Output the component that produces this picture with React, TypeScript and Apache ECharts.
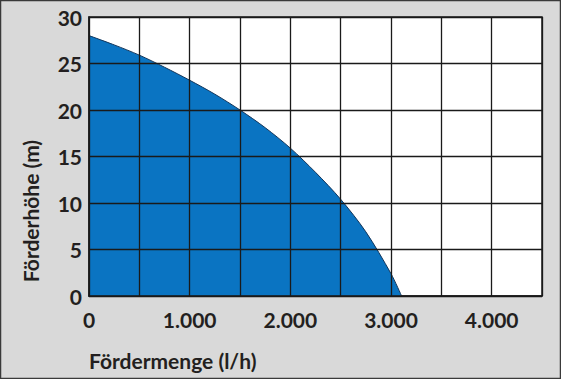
import React, { useEffect, useRef } from "react";
import * as echarts from "echarts";

const flowRates = [0, 250, 500, 750, 1000, 1250, 1500, 1750, 2000, 2250, 2500, 2750, 3000, 3105];
const heads = [28, 27.0, 25.9, 24.6, 23.2, 21.7, 20.0, 18.1, 15.9, 13.3, 10.4, 6.9, 2.4, 0];
const xTitle = "Fördermenge (l/h)";
const yTitle = "Förderhöhe (m)";

const FONT = "Lato";
const TXT = "#231f20";

export default function App() {
  const ref = useRef<HTMLDivElement>(null);
  useEffect(() => {
    document.body.style.margin = "0";
    const chart = echarts.init(ref.current!, null, { renderer: "svg" });
    const data = flowRates.map((x, i) => [x, heads[i]]);
    chart.setOption({
      animation: false,
      backgroundColor: "#d9d9d9",
      grid: {
        left: 89,
        top: 17,
        right: 19,
        bottom: 83,
        show: true,
        backgroundColor: "#ffffff",
        borderColor: "#1a1a1a",
        borderWidth: 1.5,
        z: 0,
      },
      xAxis: {
        type: "value",
        min: 0,
        max: 4500,
        interval: 500,
        z: 3,
        axisLine: { show: true, lineStyle: { color: "#1a1a1a", width: 1.5 } },
        axisTick: { show: false },
        splitLine: { show: true, lineStyle: { color: "#1a1a1a", width: 1.3 } },
        axisLabel: {
          margin: 13,
          color: TXT,
          fontFamily: FONT,
          fontWeight: "bold",
          fontSize: 21,
          formatter: (v: number) => {
            if (v % 1000 !== 0 || v > 4000) return "";
            if (v === 0) return "0";
            return (v / 1000).toFixed(0) + ".000";
          },
        },
      },
      yAxis: {
        type: "value",
        min: 0,
        max: 30,
        interval: 5,
        z: 3,
        axisLine: { show: true, lineStyle: { color: "#1a1a1a", width: 1.5 } },
        axisTick: { show: false },
        splitLine: { show: true, lineStyle: { color: "#1a1a1a", width: 1.3 } },
        axisLabel: {
          margin: 7,
          color: TXT,
          fontFamily: FONT,
          fontWeight: "bold",
          fontSize: 21,
        },
      },
      series: [
        {
          type: "line",
          data,
          smooth: 0.3,
          symbol: "none",
          z: 1,
          lineStyle: { color: "#12355a", width: 1 },
          areaStyle: { color: "#0a74c2", opacity: 1 },
        },
      ],
      graphic: [
        {
          type: "rect",
          shape: { x: 0.5, y: 0.5, width: 560, height: 378 },
          style: { fill: "none", stroke: "#3a3a3a", lineWidth: 1.5 },
          z: 10,
        },
        {
          type: "text",
          x: 89,
          y: 360,
          style: {
            text: xTitle,
            fontFamily: FONT,
            fontWeight: "bold",
            fontSize: 21,
            fill: TXT,
            textVerticalAlign: "middle",
            textAlign: "left",
          },
        },
        {
          type: "text",
          x: 30,
          y: 211,
          rotation: Math.PI / 2,
          style: {
            text: yTitle,
            fontFamily: FONT,
            fontWeight: "bold",
            fontSize: 21,
            fill: TXT,
            textVerticalAlign: "middle",
            textAlign: "center",
          },
        },
      ],
    });
    return () => chart.dispose();
  }, []);
  return <div ref={ref} style={{ width: 561, height: 379 }} />;
}
